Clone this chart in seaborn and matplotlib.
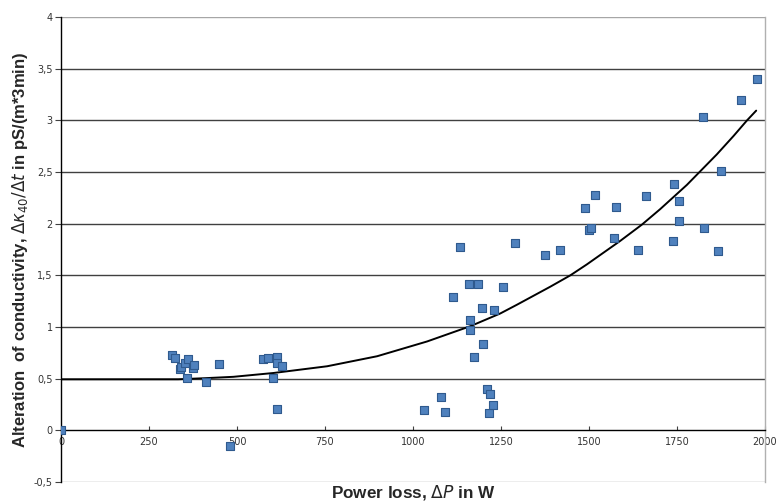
import matplotlib
matplotlib.use("Agg")
import matplotlib.pyplot as plt
import seaborn as sns
import pandas as pd
from matplotlib.ticker import FuncFormatter

# measured points
power_w = [0, 315, 325, 339, 342, 351, 360, 358, 375, 379, 413, 448, 481,
           573, 589, 613, 613, 603, 613, 627,
           1030, 1079, 1092, 1113, 1134, 1158, 1161, 1161, 1174, 1186, 1196,
           1199, 1209, 1220, 1216, 1227, 1231, 1255, 1290, 1375, 1417,
           1490, 1500, 1507, 1518, 1571, 1578, 1639, 1663, 1740, 1741, 1757,
           1755, 1823, 1826, 1866, 1876, 1932, 1977]
conductivity = [0.0, 0.73, 0.70, 0.59, 0.61, 0.65, 0.69, 0.51, 0.60, 0.63, 0.47, 0.64, -0.155,
                0.69, 0.70, 0.71, 0.65, 0.51, 0.21, 0.62,
                0.20, 0.32, 0.18, 1.29, 1.77, 1.42, 1.07, 0.97, 0.71, 1.42, 1.18,
                0.84, 0.40, 0.35, 0.17, 0.25, 1.16, 1.39, 1.81, 1.70, 1.745,
                2.155, 1.935, 1.96, 2.28, 1.865, 2.165, 1.745, 2.27, 1.83, 2.38, 2.22,
                2.03, 3.035, 1.96, 1.74, 2.505, 3.20, 3.40]

# trend line
trend_w = [0, 333, 405, 490, 604, 756, 898, 1040, 1163, 1248, 1295, 1390, 1447,
           1494, 1589, 1650, 1702, 1778, 1814, 1863, 1911, 1949, 1975]
trend_y = [0.494, 0.494, 0.504, 0.518, 0.555, 0.62, 0.717, 0.86, 1.008, 1.131, 1.215, 1.39, 1.5,
           1.606, 1.834, 1.99, 2.14, 2.375, 2.5, 2.67, 2.85, 3.0, 3.094]

x_ticks = [0, 250, 500, 750, 1000, 1250, 1500, 1750, 2000]
y_ticks = [-0.5, 0, 0.5, 1, 1.5, 2, 2.5, 3, 3.5, 4]

sns.set_theme(style="white")
plt.rcParams['font.family'] = ['DejaVu Sans']

fig = plt.figure(figsize=(7.76, 5.03), dpi=100)
ax = fig.add_axes([61/776, 21/503, 704/776, 465/503])

df = pd.DataFrame({"P": power_w, "k": conductivity})
tr = pd.DataFrame({"P": trend_w, "k": trend_y})

for yv in y_ticks:
    if yv in (-0.5, 4):
        ax.axhline(yv, color="#a6a6a6", lw=1.0, zorder=0)
    elif yv != 0:
        ax.axhline(yv, color="#404040", lw=1.0, zorder=0)

sns.lineplot(data=tr, x="P", y="k", ax=ax, color="black", lw=1.4, sort=False,
             estimator=None, zorder=2)
sns.scatterplot(data=df, x="P", y="k", ax=ax, marker="s", s=30,
                color="#4F81BD", edgecolor="#2F5A8E", linewidth=0.8, zorder=3)

ax.set_xlim(0, 2000)
ax.set_ylim(-0.5, 4)
ax.set_xticks(x_ticks)
ax.set_yticks(y_ticks)
fmt = FuncFormatter(lambda v, p: ("%g" % v).replace(".", ","))
ax.xaxis.set_major_formatter(fmt)
ax.yaxis.set_major_formatter(fmt)

ax.spines["top"].set_visible(False)
ax.spines["right"].set_color("#b0b0b0")
ax.spines["right"].set_linewidth(1.0)
ax.spines["bottom"].set_position(("data", 0))
ax.spines["bottom"].set_color("black")
ax.spines["bottom"].set_linewidth(1.0)
ax.spines["left"].set_color("black")
ax.spines["left"].set_linewidth(1.0)

ax.tick_params(axis="x", direction="in", length=3, width=0.8, color="#404040",
               labelsize=7, labelcolor="#333333", pad=5, bottom=True)
ax.tick_params(axis="y", direction="out", length=4, width=0.8, color="#404040",
               labelsize=7, labelcolor="#333333", pad=2, left=True)

ax.set_xlabel(r"Power loss, $\Delta P$ in W", fontsize=12.3, fontweight="bold",
              family=["Liberation Sans", "DejaVu Sans"], va="top")
ax.xaxis.set_label_coords(0.5, -0.002)
ax.set_ylabel(r"Alteration  of conductivity, $\Delta\kappa_{40}/\Delta t$ in pS/(m*3min)",
              fontsize=12, fontweight="bold", family=["Liberation Sans", "DejaVu Sans"],
              va="center", ha="center")
ax.yaxis.set_label_coords(-0.058, 0.5)

fig.savefig("out.png", dpi=100, facecolor="white")
